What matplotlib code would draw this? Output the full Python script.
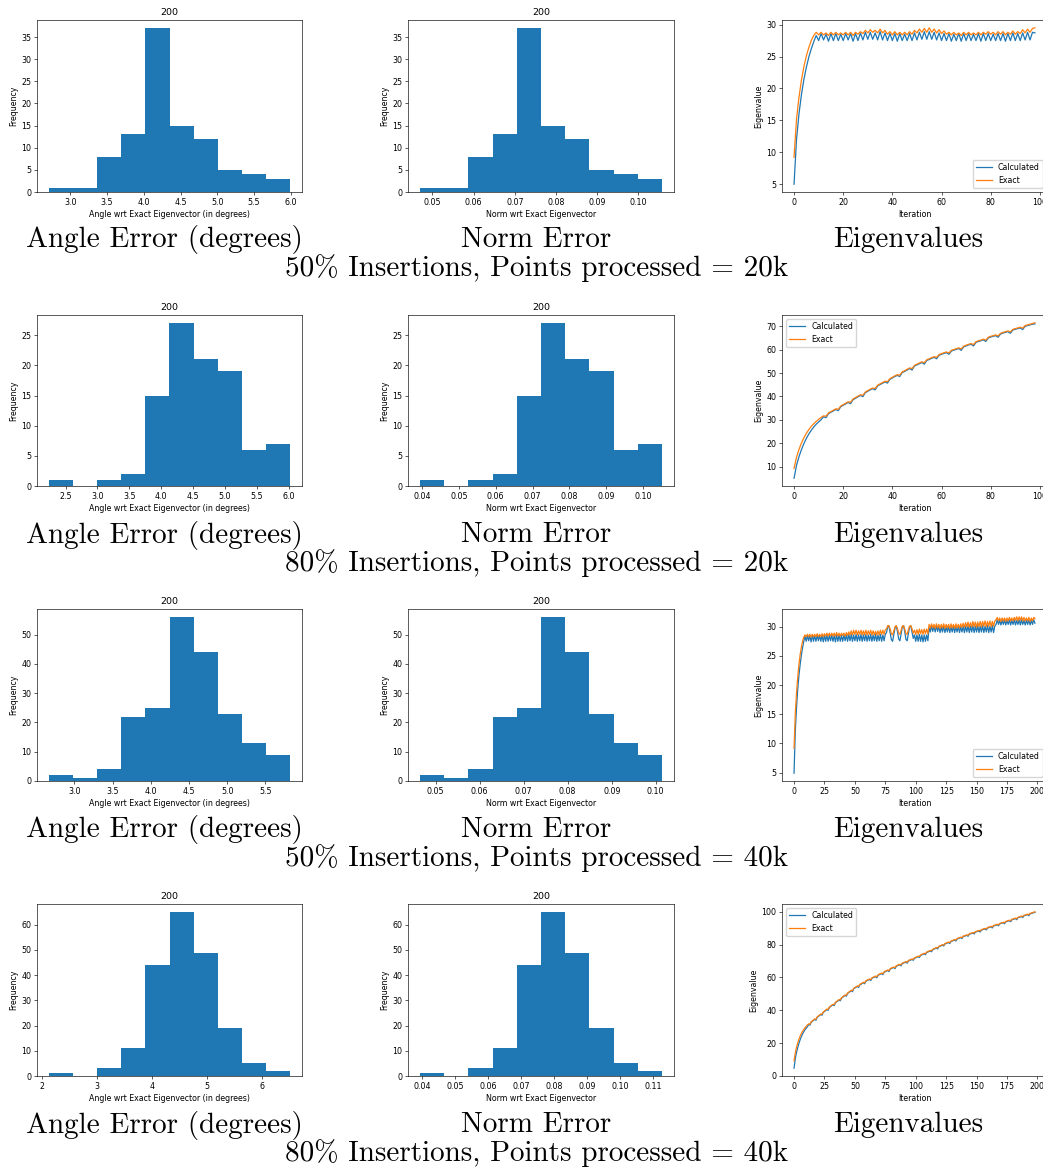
import numpy as np
import matplotlib.pyplot as plt

W, H = 1043, 1172

row_titles = ["50% Insertions, Points processed = 20k",
              "80% Insertions, Points processed = 20k",
              "50% Insertions, Points processed = 40k",
              "80% Insertions, Points processed = 40k"]
col_captions = ["Angle Error (degrees)", "Norm Error", "Eigenvalues"]

# histogram counts (10 bins) and the data range of each histogram
angle_counts = [[1, 1, 8, 13, 37, 15, 12, 5, 4, 3],
                [1, 0, 1, 2, 15, 27, 21, 19, 6, 7],
                [2, 1, 4, 22, 25, 56, 44, 23, 13, 9],
                [1, 0, 3, 11, 44, 65, 49, 19, 5, 2]]
angle_ranges = [(2.71, 5.99), (2.24, 6.02), (2.67, 5.82), (2.13, 6.51)]
norm_counts = [[1, 1, 8, 13, 37, 15, 12, 5, 4, 3],
               [1, 0, 1, 2, 15, 27, 21, 19, 6, 7],
               [2, 1, 4, 22, 25, 56, 44, 23, 13, 9],
               [1, 0, 3, 11, 44, 65, 49, 19, 5, 2]]
norm_ranges = [(0.0470, 0.1057), (0.0395, 0.1051), (0.0465, 0.1014), (0.0394, 0.1126)]

# eigenvalue per iteration
calc_1 = [5.0, 12.0, 16.0, 19.0, 21.4, 23.3, 24.9, 26.2, 27.3, 28.3,
          27.5, 28.6, 27.6, 28.5, 27.4, 28.6, 27.5, 28.6, 27.5, 28.5,
          27.5, 28.6, 27.6, 28.6, 27.4, 28.6, 27.5, 28.7, 27.6, 28.8,
          27.7, 28.8, 27.7, 28.7, 27.6, 28.9, 27.6, 28.7, 27.5, 28.6,
          27.5, 28.6, 27.4, 28.6, 27.5, 28.5, 27.5, 28.6, 27.5, 28.7,
          27.6, 28.8, 27.7, 28.9, 27.7, 28.9, 27.7, 28.8, 27.6, 28.7,
          27.5, 28.6, 27.5, 28.6, 27.4, 28.5, 27.5, 28.6, 27.4, 28.6,
          27.5, 28.6, 27.5, 28.5, 27.5, 28.6, 27.4, 28.6, 27.5, 28.6,
          27.5, 28.5, 27.5, 28.6, 27.5, 28.6, 27.4, 28.6, 27.5, 28.7,
          27.5, 28.6, 27.5, 28.7, 27.6, 28.8, 27.6, 28.8, 28.7]
exact_1 = [9.2, 15.2, 18.6, 21.3, 23.4, 25.1, 26.4, 27.5, 28.3, 28.8,
           28.4, 28.8, 28.4, 28.7, 28.3, 28.8, 28.4, 28.8, 28.4, 28.7,
           28.4, 28.8, 28.4, 28.8, 28.3, 28.8, 28.5, 28.9, 28.6, 29.1,
           28.7, 29.2, 28.8, 29.1, 28.7, 29.3, 28.7, 29.1, 28.5, 28.9,
           28.4, 28.9, 28.4, 28.8, 28.4, 28.8, 28.4, 28.9, 28.5, 29.1,
           28.7, 29.3, 28.8, 29.4, 28.8, 29.5, 28.8, 29.3, 28.7, 29.2,
           28.6, 29.0, 28.5, 28.8, 28.4, 28.8, 28.4, 28.7, 28.3, 28.8,
           28.4, 28.8, 28.4, 28.7, 28.4, 28.8, 28.4, 28.8, 28.5, 28.9,
           28.5, 28.8, 28.4, 28.9, 28.5, 28.9, 28.4, 28.8, 28.5, 29.0,
           28.5, 28.9, 28.6, 29.2, 28.7, 29.3, 28.8, 29.4, 29.5]

calc_2 = [5.0, 10.5, 14.2, 17.2, 19.8, 22.0, 23.9, 25.5, 26.9, 28.1,
          29.1, 30.0, 31.3, 30.9, 32.6, 33.2, 33.8, 34.4, 33.9, 35.6,
          36.2, 36.8, 37.4, 36.9, 38.6, 39.2, 39.8, 40.4, 39.9, 41.6,
          42.2, 42.8, 43.3, 42.8, 44.5, 45.1, 45.6, 46.2, 45.7, 47.3,
          47.9, 48.5, 49.0, 48.5, 50.2, 50.7, 51.3, 51.9, 51.3, 53.0,
          53.5, 54.0, 54.5, 53.8, 55.4, 55.8, 56.3, 56.7, 56.1, 57.6,
          58.0, 58.4, 58.7, 58.0, 59.4, 59.8, 60.1, 60.5, 59.7, 61.2,
          61.6, 62.0, 62.3, 61.6, 63.1, 63.5, 63.8, 64.2, 63.5, 65.0,
          65.4, 65.7, 66.0, 65.3, 66.7, 67.1, 67.4, 67.7, 67.0, 68.4,
          68.7, 69.0, 69.3, 68.6, 70.0, 70.3, 70.6, 70.9, 71.0]
exact_2 = [9.2, 14.0, 17.3, 20.0, 22.3, 24.2, 25.8, 27.2, 28.3, 29.3,
           30.2, 31.0, 31.7, 31.5, 32.9, 33.5, 34.1, 34.7, 34.5, 35.9,
           36.5, 37.1, 37.7, 37.5, 38.9, 39.5, 40.1, 40.7, 40.5, 41.9,
           42.5, 43.1, 43.6, 43.4, 44.8, 45.4, 45.9, 46.5, 46.3, 47.6,
           48.2, 48.8, 49.3, 49.1, 50.5, 51.0, 51.6, 52.2, 51.9, 53.3,
           53.8, 54.3, 54.8, 54.4, 55.7, 56.1, 56.6, 57.0, 56.7, 57.9,
           58.3, 58.7, 59.0, 58.6, 59.7, 60.1, 60.4, 60.8, 60.3, 61.5,
           61.9, 62.3, 62.6, 62.2, 63.4, 63.8, 64.1, 64.5, 64.1, 65.3,
           65.7, 66.0, 66.3, 65.9, 67.0, 67.4, 67.7, 68.0, 67.6, 68.7,
           69.0, 69.3, 69.6, 69.2, 70.3, 70.6, 70.9, 71.2, 71.5]

calc_3 = [4.9, 12.0, 16.0, 19.2, 21.6, 23.5, 25.1, 26.4, 27.5, 28.4,
          27.5, 28.5, 27.6, 28.5, 27.4, 28.6, 27.5, 28.5, 27.5, 28.6,
          27.6, 28.5, 27.5, 28.6, 27.4, 28.5, 27.5, 28.6, 27.5, 28.5,
          27.6, 28.6, 27.5, 28.5, 27.4, 28.6, 27.5, 28.6, 27.5, 28.5,
          27.5, 28.6, 27.6, 28.6, 27.5, 28.7, 27.6, 28.7, 27.5, 28.6,
          27.6, 28.7, 27.5, 28.6, 27.6, 28.7, 27.5, 28.6, 27.6, 28.7,
          27.5, 28.6, 27.6, 28.7, 27.5, 28.6, 27.6, 28.7, 27.5, 28.6,
          27.6, 28.7, 27.5, 28.6, 27.6, 28.7, 29.0, 30.0, 30.1, 29.0,
          27.8, 27.5, 28.6, 29.8, 30.1, 29.2, 27.9, 27.6, 28.8, 30.0,
          30.2, 29.1, 27.8, 27.6, 28.9, 30.0, 30.1, 29.0, 28.0, 28.6,
          27.5, 28.6, 27.5, 28.7, 27.5, 28.6, 27.4, 28.6, 27.5, 28.6,
          27.6, 29.9, 29.1, 30.2, 29.2, 30.1, 29.1, 30.2, 29.2, 30.1,
          29.0, 30.0, 29.1, 30.1, 29.0, 30.0, 29.1, 30.1, 29.0, 30.0,
          29.1, 30.1, 29.0, 30.0, 29.1, 30.1, 29.0, 30.0, 29.1, 30.1,
          29.0, 30.1, 29.1, 30.2, 29.0, 30.1, 29.1, 30.2, 29.0, 30.1,
          29.1, 30.2, 29.0, 30.1, 29.1, 30.2, 29.0, 30.1, 29.1, 30.2,
          29.0, 30.1, 29.1, 30.2, 29.0, 30.1, 30.4, 31.2, 30.4, 31.1,
          30.3, 31.1, 30.4, 31.2, 30.3, 31.1, 30.4, 31.2, 30.3, 31.1,
          30.4, 31.2, 30.3, 31.1, 30.4, 31.2, 30.3, 31.2, 30.4, 31.1,
          30.3, 31.1, 30.4, 31.2, 30.3, 31.1, 30.4, 31.2, 30.6]
exact_3 = [9.2, 15.0, 18.6, 21.3, 23.5, 25.2, 26.5, 27.5, 28.2, 28.6,
           28.3, 28.7, 28.3, 28.7, 28.2, 28.7, 28.3, 28.7, 28.3, 28.8,
           28.3, 28.7, 28.3, 28.8, 28.3, 28.8, 28.4, 28.9, 28.4, 28.9,
           28.4, 28.9, 28.4, 28.9, 28.4, 29.0, 28.4, 28.9, 28.4, 28.9,
           28.5, 28.9, 28.4, 29.0, 28.5, 29.1, 28.6, 29.3, 28.6, 29.4,
           28.7, 29.4, 28.6, 29.3, 28.7, 29.4, 28.6, 29.3, 28.6, 29.4,
           28.6, 29.3, 28.7, 29.4, 28.6, 29.3, 28.6, 29.2, 28.6, 29.3,
           28.6, 29.4, 28.7, 29.4, 28.7, 29.5, 29.6, 30.2, 30.2, 29.6,
           28.8, 28.6, 29.3, 30.0, 30.2, 29.7, 28.9, 28.7, 29.4, 30.1,
           30.2, 29.6, 28.8, 28.7, 29.5, 30.1, 30.2, 29.6, 28.9, 29.4,
           28.7, 29.5, 28.7, 29.6, 28.8, 29.5, 28.7, 29.6, 28.8, 29.6,
           28.8, 30.4, 29.8, 30.5, 29.8, 30.4, 29.7, 30.5, 29.8, 30.4,
           29.7, 30.4, 29.8, 30.5, 29.7, 30.4, 29.8, 30.4, 29.7, 30.5,
           29.8, 30.4, 29.7, 30.5, 29.8, 30.4, 29.8, 30.5, 29.9, 30.6,
           29.9, 30.7, 30.0, 30.8, 29.9, 30.7, 30.0, 30.9, 30.0, 30.8,
           29.9, 30.8, 30.0, 30.9, 30.0, 30.9, 30.1, 31.0, 30.0, 30.9,
           30.1, 31.0, 30.0, 30.9, 30.1, 31.0, 31.2, 31.6, 31.0, 31.5,
           30.9, 31.5, 31.0, 31.5, 30.9, 31.5, 31.0, 31.6, 31.0, 31.5,
           31.0, 31.6, 31.1, 31.7, 31.0, 31.7, 31.1, 31.7, 31.0, 31.6,
           31.0, 31.5, 31.0, 31.6, 30.9, 31.5, 31.0, 31.6, 31.4]

calc_4 = [4.7, 10.5, 14.2, 17.2, 19.8, 22.0, 23.9, 25.5, 26.9, 28.1,
          29.1, 30.0, 31.3, 30.9, 32.6, 33.2, 33.8, 34.4, 33.9, 35.6,
          36.2, 36.8, 37.4, 36.9, 38.6, 39.2, 39.8, 40.4, 39.9, 41.6,
          42.2, 42.8, 43.3, 42.8, 44.5, 45.1, 45.6, 46.2, 45.7, 47.3,
          47.9, 48.5, 49.0, 48.5, 50.2, 50.7, 51.3, 51.9, 51.3, 53.0,
          53.5, 54.0, 54.5, 53.8, 55.4, 55.8, 56.3, 56.7, 56.1, 57.6,
          58.0, 58.4, 58.7, 58.0, 59.4, 59.8, 60.1, 60.5, 59.7, 61.2,
          61.6, 62.0, 62.3, 61.6, 63.1, 63.5, 63.8, 64.2, 63.5, 65.0,
          65.4, 65.7, 66.0, 65.3, 66.7, 67.1, 67.4, 67.7, 67.0, 68.4,
          68.7, 69.0, 69.3, 68.6, 70.0, 70.3, 70.6, 70.9, 70.4, 71.6,
          71.9, 72.3, 72.6, 72.1, 73.3, 73.7, 74.0, 74.4, 73.8, 75.1,
          75.4, 75.8, 76.1, 75.6, 76.8, 77.2, 77.5, 77.9, 77.3, 78.6,
          78.9, 79.3, 79.6, 79.1, 80.3, 80.6, 80.9, 81.2, 80.6, 81.8,
          82.1, 82.4, 82.7, 82.1, 83.3, 83.6, 83.9, 84.2, 83.6, 84.8,
          85.1, 85.3, 85.6, 85.0, 86.2, 86.5, 86.7, 87.0, 86.4, 87.5,
          87.8, 88.0, 88.3, 87.6, 88.8, 89.0, 89.3, 89.5, 88.9, 90.0,
          90.3, 90.5, 90.8, 90.1, 91.3, 91.5, 91.8, 92.0, 91.4, 92.5,
          92.8, 93.0, 93.3, 92.6, 93.8, 94.0, 94.3, 94.5, 93.9, 95.0,
          95.3, 95.5, 95.8, 95.1, 96.3, 96.5, 96.8, 97.0, 96.4, 97.5,
          97.7, 98.0, 98.2, 97.5, 98.7, 98.9, 99.1, 99.4, 99.6]
exact_4 = [9.2, 14.0, 17.3, 20.0, 22.3, 24.2, 25.8, 27.2, 28.3, 29.3,
           30.2, 31.0, 31.7, 31.5, 32.9, 33.5, 34.1, 34.7, 34.5, 35.9,
           36.5, 37.1, 37.7, 37.5, 38.9, 39.5, 40.1, 40.7, 40.5, 41.9,
           42.5, 43.1, 43.6, 43.4, 44.8, 45.4, 45.9, 46.5, 46.3, 47.6,
           48.2, 48.8, 49.3, 49.1, 50.5, 51.0, 51.6, 52.2, 51.9, 53.3,
           53.8, 54.3, 54.8, 54.4, 55.7, 56.1, 56.6, 57.0, 56.7, 57.9,
           58.3, 58.7, 59.0, 58.6, 59.7, 60.1, 60.4, 60.8, 60.3, 61.5,
           61.9, 62.3, 62.6, 62.2, 63.4, 63.8, 64.1, 64.5, 64.1, 65.3,
           65.7, 66.0, 66.3, 65.9, 67.0, 67.4, 67.7, 68.0, 67.6, 68.7,
           69.0, 69.3, 69.6, 69.2, 70.3, 70.6, 70.9, 71.2, 71.0, 71.9,
           72.2, 72.6, 72.9, 72.7, 73.6, 74.0, 74.3, 74.7, 74.4, 75.4,
           75.7, 76.1, 76.4, 76.2, 77.1, 77.5, 77.8, 78.2, 77.9, 78.9,
           79.2, 79.6, 79.9, 79.7, 80.6, 80.9, 81.2, 81.5, 81.2, 82.1,
           82.4, 82.7, 83.0, 82.7, 83.6, 83.9, 84.2, 84.5, 84.2, 85.1,
           85.4, 85.6, 85.9, 85.6, 86.5, 86.8, 87.0, 87.3, 87.0, 87.8,
           88.1, 88.3, 88.6, 88.2, 89.1, 89.3, 89.6, 89.8, 89.5, 90.3,
           90.6, 90.8, 91.1, 90.7, 91.6, 91.8, 92.1, 92.3, 92.0, 92.8,
           93.1, 93.3, 93.6, 93.2, 94.1, 94.3, 94.6, 94.8, 94.5, 95.3,
           95.6, 95.8, 96.1, 95.7, 96.6, 96.8, 97.1, 97.3, 97.0, 97.8,
           98.0, 98.3, 98.5, 98.1, 99.0, 99.2, 99.4, 99.7, 99.9]

calc_all = [calc_1, calc_2, calc_3, calc_4]
exact_all = [exact_1, exact_2, exact_3, exact_4]
legend_locs = ["lower right", "upper left", "lower right", "upper left"]

plt.rcParams.update({
    "font.size": 5.7,
    "axes.linewidth": 0.45,
    "xtick.major.size": 2, "ytick.major.size": 2,
    "xtick.major.width": 0.45, "ytick.major.width": 0.45,
    "xtick.major.pad": 2, "ytick.major.pad": 2,
    "xtick.labelsize": 5.7, "ytick.labelsize": 5.7,
    "axes.labelsize": 5.7, "axes.titlesize": 6.8,
    "axes.labelpad": 2.2, "axes.titlepad": 3.4,
    "legend.fontsize": 5.7,
    "lines.linewidth": 0.9,
})

fig = plt.figure(figsize=(W / 100, H / 100), dpi=100)


def add_ax(left, top, right, bottom):
    return fig.add_axes([left / W, 1 - bottom / H, (right - left) / W, (bottom - top) / H])


col_lr = [(37, 302), (408, 674), (782, 1047)]
row_top = [20, 315, 609, 904]
row_bot = [192, 486, 781, 1076]
caption_x = [164, 536, 908]

for r in range(4):
    top, bot = row_top[r], row_bot[r]

    # angle histogram
    ax = add_ax(col_lr[0][0], top, col_lr[0][1], bot)
    edges = np.linspace(angle_ranges[r][0], angle_ranges[r][1], len(angle_counts[r]) + 1)
    ax.stairs(angle_counts[r], edges, fill=True, color="#1f77b4")
    ax.set_ylim(0, max(angle_counts[r]) * 1.05)
    ax.set_title("200")
    ax.set_xlabel("Angle wrt Exact Eigenvector (in degrees)")
    ax.set_ylabel("Frequency")

    # norm histogram
    ax = add_ax(col_lr[1][0], top, col_lr[1][1], bot)
    edges = np.linspace(norm_ranges[r][0], norm_ranges[r][1], len(norm_counts[r]) + 1)
    ax.stairs(norm_counts[r], edges, fill=True, color="#1f77b4")
    ax.set_ylim(0, max(norm_counts[r]) * 1.05)
    ax.set_title("200")
    ax.set_xlabel("Norm wrt Exact Eigenvector")
    ax.set_ylabel("Frequency")

    # eigenvalues
    ax = add_ax(col_lr[2][0], top, col_lr[2][1], bot)
    ax.plot(np.arange(len(calc_all[r])), calc_all[r], color="#1f77b4", label="Calculated")
    ax.plot(np.arange(len(exact_all[r])), exact_all[r], color="#ff7f0e", label="Exact")
    ax.set_xlabel("Iteration")
    ax.set_ylabel("Eigenvalue")
    ax.legend(loc=legend_locs[r])

    for c in range(3):
        fig.text(caption_x[c] / W, 1 - (240 + 295 * r) / H, col_captions[c],
                 family="cmr10", fontsize=21, ha="center", va="center")
    fig.text(537 / W, 1 - (268 + 295 * r) / H, row_titles[r],
             family="cmr10", fontsize=21, ha="center", va="center")

fig.savefig("out.png", dpi=100)
